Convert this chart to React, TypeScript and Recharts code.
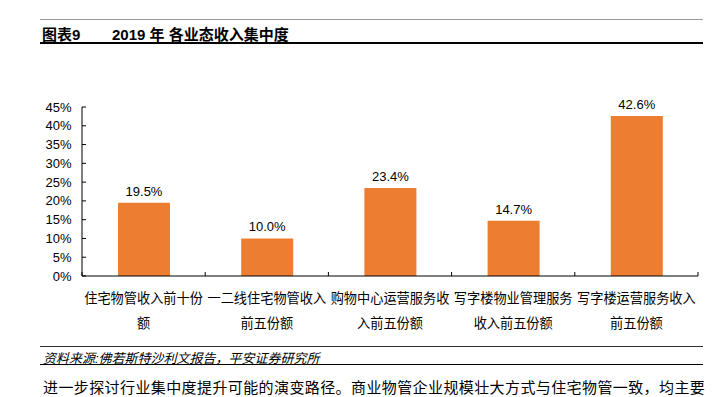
import { Bar, BarChart, LabelList, XAxis, YAxis } from "recharts";

const categories = [
  "住宅物管收入前十份额",
  "一二线住宅物管收入前五份额",
  "购物中心运营服务收入前五份额",
  "写字楼物业管理服务收入前五份额",
  "写字楼运营服务收入前五份额",
];
const shares = [19.5, 10.0, 23.4, 14.7, 42.6];
const yTicks = [0, 5, 10, 15, 20, 25, 30, 35, 40, 45];

const data = categories.map((name, i) => ({ name, share: shares[i] }));

const W = 722;
const H = 397;
const AXIS_W = 82;
const MARGIN = { top: 107, right: 24, bottom: 61, left: 0 };
const BAND = (W - AXIS_W - MARGIN.right) / categories.length;
const FONT = '"Liberation Sans", "Noto Sans CJK SC", sans-serif';

function YTick({ x, y, payload }: any) {
  return (
    <g>
      <line x1={x} x2={x + 4} y1={y} y2={y} stroke="#000" />
      <text x={x - 10.5} y={y} dy={4.5} textAnchor="end" fontSize={13} fill="#000" fontFamily={FONT}>
        {payload.value}%
      </text>
    </g>
  );
}

function XTick({ x, y, payload, index }: any) {
  const label: string = payload.value;
  const l1 = label.slice(0, 9);
  const l2 = label.slice(9);
  const last = index === categories.length - 1;
  return (
    <g>
      <line x1={x - BAND / 2} x2={x - BAND / 2} y1={y} y2={y - 4} stroke="#000" />
      {last && <line x1={x + BAND / 2} x2={x + BAND / 2} y1={y} y2={y - 4} stroke="#000" />}
      <text x={x} y={y + 26.5} textAnchor="middle" fontSize={13.2} fill="#000" fontFamily={FONT}>
        {l1}
      </text>
      <text x={x} y={y + 51.5} textAnchor="middle" fontSize={13.2} fill="#000" fontFamily={FONT}>
        {l2}
      </text>
    </g>
  );
}

export default function App() {
  return (
    <div style={{ position: "absolute", left: 0, top: 0, width: W, height: H, background: "#fff", overflow: "hidden", fontFamily: FONT }}>
      {/* header */}
      <div style={{ position: "absolute", left: 40, top: 19, width: 663, borderTop: "1px solid #999" }} />
      <div style={{ position: "absolute", left: 42, top: 23, fontSize: 15, fontWeight: 700, color: "#000", whiteSpace: "nowrap" }}>
        图表9
      </div>
      <div style={{ position: "absolute", left: 112, top: 23, fontSize: 15, fontWeight: 700, color: "#000", whiteSpace: "nowrap" }}>
        2019 年 各业态收入集中度
      </div>
      <div style={{ position: "absolute", left: 40, top: 42, width: 663, borderTop: "2px solid #000" }} />

      <div style={{ position: "absolute", left: 0, top: 0 }}>
        <BarChart width={W} height={H} data={data} margin={MARGIN}>
          <XAxis
            dataKey="name"
            axisLine={{ stroke: "#000" }}
            tickLine={false}
            tickSize={0}
            tickMargin={0}
            height={60}
            interval={0}
            tick={<XTick />}
          />
          <YAxis
            domain={[0, 45]}
            ticks={yTicks}
            width={AXIS_W}
            axisLine={{ stroke: "#000" }}
            tickLine={false}
            tickSize={0}
            tickMargin={0}
            interval={0}
            tick={<YTick />}
          />
          <Bar dataKey="share" fill="#ED7D31" barSize={52} isAnimationActive={false}>
            <LabelList
              dataKey="share"
              position="top"
              offset={7}
              formatter={(v: any) => `${Number(v).toFixed(1)}%`}
              style={{ fontSize: 13, fill: "#000", fontFamily: FONT }}
            />
          </Bar>
        </BarChart>
      </div>

      {/* source */}
      <div style={{ position: "absolute", left: 40, top: 346, width: 663, borderTop: "1px solid #333" }} />
      <div style={{ position: "absolute", left: 43, top: 348, fontSize: 13, fontStyle: "italic", color: "#000", whiteSpace: "nowrap" }}>
        资料来源:佛若斯特沙利文报告，平安证券研究所
      </div>
      <div style={{ position: "absolute", left: 40, top: 364, width: 663, borderTop: "1.5px solid #000" }} />
      <div style={{ position: "absolute", left: 43, top: 379, fontSize: 15, lineHeight: "17px", letterSpacing: 0.4, color: "#000", whiteSpace: "nowrap" }}>
        进一步探讨行业集中度提升可能的演变路径。商业物管企业规模壮大方式与住宅物管一致，均主要
      </div>
    </div>
  );
}
